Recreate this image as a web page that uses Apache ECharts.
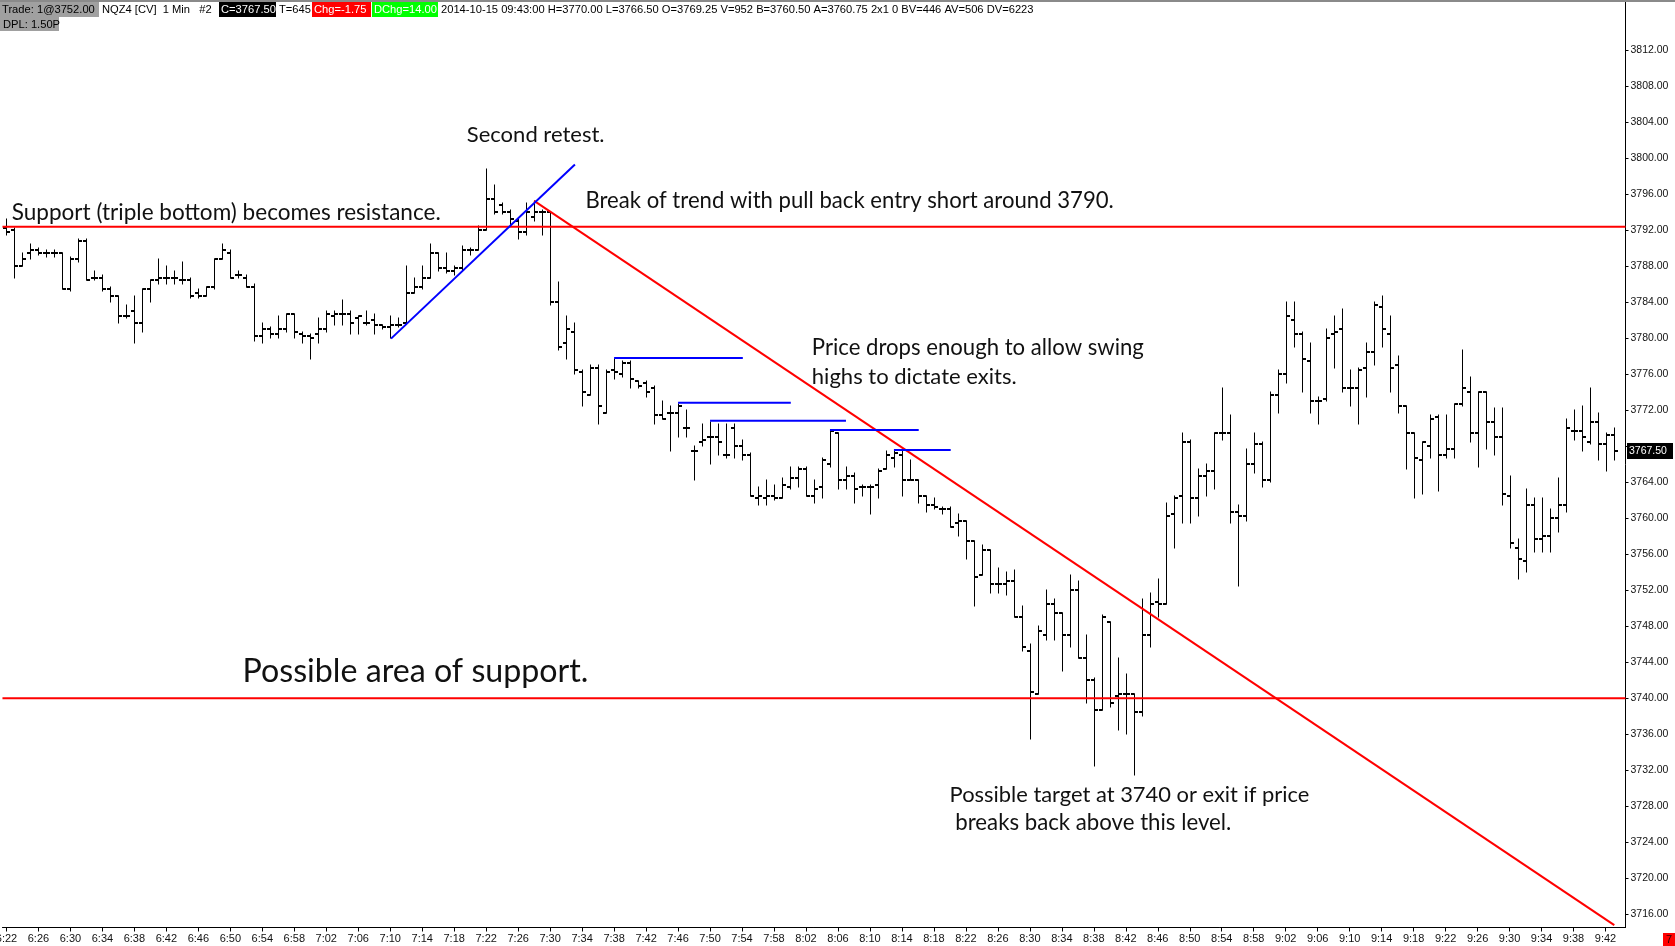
<!DOCTYPE html>
<html><head><meta charset="utf-8">
<script src="https://cdn.jsdelivr.net/npm/echarts@6/dist/echarts.min.js"></script>
<style>html,body{margin:0;padding:0;background:#fff;}#chart{width:1675px;height:946px;}</style>
</head><body><div id="chart"></div>
<script>
const times = [
'6:22','6:23','6:24','6:25','6:26','6:27','6:28','6:29','6:30','6:31','6:32','6:33','6:34','6:35','6:36','6:37','6:38','6:39','6:40','6:41',
'6:42','6:43','6:44','6:45','6:46','6:47','6:48','6:49','6:50','6:51','6:52','6:53','6:54','6:55','6:56','6:57','6:58','6:59',
'7:00','7:01','7:02','7:03','7:04','7:05','7:06','7:07','7:08','7:09','7:10','7:11','7:12','7:13','7:14','7:15','7:16','7:17','7:18','7:19',
'7:20','7:21','7:22','7:23','7:24','7:25','7:26','7:27','7:28','7:29','7:30','7:31','7:32','7:33','7:34','7:35','7:36','7:37','7:38','7:39',
'7:40','7:41','7:42','7:43','7:44','7:45','7:46','7:47','7:48','7:49','7:50','7:51','7:52','7:53','7:54','7:55','7:56','7:57','7:58','7:59',
'8:00','8:01','8:02','8:03','8:04','8:05','8:06','8:07','8:08','8:09','8:10','8:11','8:12','8:13','8:14','8:15','8:16','8:17','8:18','8:19',
'8:20','8:21','8:22','8:23','8:24','8:25','8:26','8:27','8:28','8:29','8:30','8:31','8:32','8:33','8:34','8:35','8:36','8:37','8:38','8:39',
'8:40','8:41','8:42','8:43','8:44','8:45','8:46','8:47','8:48','8:49','8:50','8:51','8:52','8:53','8:54','8:55','8:56','8:57','8:58','8:59',
'9:00','9:01','9:02','9:03','9:04','9:05','9:06','9:07','9:08','9:09','9:10','9:11','9:12','9:13','9:14','9:15','9:16','9:17','9:18','9:19',
'9:20','9:21','9:22','9:23','9:24','9:25','9:26','9:27','9:28','9:29','9:30','9:31','9:32','9:33','9:34','9:35','9:36','9:37','9:38','9:39',
'9:40','9:41','9:42','9:43'];

const opens = [
3792.25,3792.0,3788.0,3789.5,3789.75,3789.5,3789.5,3789.5,3785.5,3788.75,
3790.75,3786.75,3786.75,3785.5,3784.75,3782.5,3783.0,3781.75,3785.5,3786.5,
3786.75,3786.75,3786.5,3786.5,3785.0,3784.75,3785.75,3788.75,3789.5,3787.0,
3786.75,3785.75,3780.25,3781.0,3780.5,3781.0,3782.75,3780.5,3780.25,3780.5,
3781.0,3782.5,3782.75,3782.75,3782.25,3781.75,3782.0,3781.5,3781.25,3781.5,
3781.75,3785.0,3785.75,3786.75,3789.5,3787.75,3787.5,3787.75,3789.75,3789.75,
3792.0,3795.5,3794.75,3794.0,3793.0,3791.75,3793.5,3794.0,3794.0,3784.0,
3779.5,3780.75,3776.25,3773.75,3776.75,3771.75,3776.5,3776.0,3777.25,3775.25,
3775.0,3774.5,3771.5,3771.75,3771.75,3770.0,3767.5,3768.5,3769.0,3769.0,
3767.0,3770.0,3768.0,3767.0,3762.25,3762.25,3762.5,3762.25,3763.5,3764.5,
3765.5,3762.5,3763.5,3766.0,3769.5,3764.25,3764.75,3763.5,3763.5,3763.75,
3765.5,3766.75,3767.0,3764.25,3764.25,3762.5,3761.5,3761.0,3761.0,3759.5,
3759.75,3757.5,3753.75,3756.5,3752.75,3752.75,3753.0,3749.0,3745.25,3740.5,
3747.0,3750.5,3749.5,3747.0,3752.0,3744.5,3742.0,3738.75,3748.5,3740.25,
3740.5,3740.5,3738.5,3747.0,3750.75,3750.5,3760.5,3762.5,3768.5,3762.25,
3764.75,3765.25,3769.5,3769.5,3760.75,3760.25,3766.0,3768.25,3764.25,3773.75,
3776.0,3782.0,3780.5,3777.5,3773.0,3773.25,3780.5,3781.0,3774.5,3774.5,
3776.75,3778.5,3783.5,3780.5,3777.0,3772.5,3769.5,3766.5,3768.0,3771.25,
3767.0,3767.75,3772.75,3774.0,3769.5,3774.0,3770.75,3769.0,3762.5,3756.75,
3755.25,3761.5,3757.75,3758.0,3760.0,3761.5,3769.75,3769.75,3768.5,3770.75,
3768.25,3769.25];

const highs = [
3793.25,3792.25,3789.5,3790.5,3790.0,3789.75,3789.75,3789.5,3789.0,3791.0,
3791.0,3787.5,3787.0,3785.75,3784.75,3783.75,3784.75,3785.5,3786.5,3788.75,
3788.0,3787.5,3788.5,3786.75,3785.5,3785.75,3788.75,3790.5,3789.75,3787.5,
3787.0,3786.0,3781.75,3781.25,3782.5,3782.75,3782.75,3780.75,3780.5,3782.25,
3783.0,3783.0,3784.25,3783.0,3782.5,3783.0,3782.75,3781.5,3782.5,3782.25,
3788.0,3786.75,3788.0,3790.5,3789.5,3789.5,3788.0,3790.25,3790.0,3792.5,
3798.75,3797.0,3795.0,3794.25,3793.25,3795.0,3795.25,3794.25,3794.0,3786.25,
3782.5,3781.75,3776.5,3777.0,3777.0,3776.5,3777.75,3777.5,3777.5,3775.25,
3775.25,3774.75,3773.0,3772.5,3772.75,3772.0,3768.0,3770.5,3770.75,3770.5,
3770.5,3770.5,3768.75,3767.25,3763.5,3764.25,3763.75,3764.5,3765.75,3765.75,
3765.75,3764.25,3766.75,3769.75,3769.5,3765.75,3765.0,3763.75,3763.75,3765.5,
3767.5,3767.5,3767.5,3766.5,3764.25,3762.5,3762.25,3761.25,3761.25,3760.5,
3759.75,3757.5,3757.0,3756.5,3754.5,3754.0,3754.25,3750.25,3746.0,3748.0,
3752.0,3751.0,3749.5,3753.75,3753.0,3747.0,3742.25,3749.25,3748.5,3744.5,
3742.75,3740.5,3751.0,3751.75,3753.25,3761.75,3762.5,3769.5,3768.75,3765.5,
3766.0,3769.5,3774.5,3771.5,3761.5,3767.75,3769.5,3768.5,3774.0,3776.5,
3784.0,3784.0,3780.75,3779.5,3773.5,3781.0,3782.5,3783.25,3776.5,3776.75,
3779.5,3784.0,3784.75,3782.5,3778.0,3772.5,3769.5,3768.5,3771.5,3771.5,
3771.5,3772.75,3778.75,3775.75,3774.0,3774.0,3772.25,3772.25,3764.75,3757.75,
3763.25,3762.25,3762.25,3761.0,3764.5,3771.0,3772.0,3772.5,3774.5,3771.75,
3769.5,3770.0];

const lows = [
3791.5,3786.75,3788.0,3788.75,3789.25,3789.0,3789.0,3785.5,3785.25,3788.5,
3786.5,3786.5,3785.25,3784.0,3781.75,3782.25,3779.5,3780.75,3784.0,3786.0,
3786.0,3786.0,3786.0,3784.5,3784.5,3784.75,3785.5,3788.75,3786.75,3786.75,
3785.75,3779.75,3779.5,3780.0,3780.0,3780.75,3780.0,3779.5,3777.75,3779.5,
3780.75,3781.5,3781.5,3780.5,3780.5,3781.5,3780.5,3781.0,3780.0,3781.25,
3781.75,3785.0,3785.5,3786.75,3787.5,3787.25,3787.0,3787.5,3789.25,3789.75,
3792.0,3793.75,3793.75,3792.5,3791.0,3791.5,3793.0,3791.5,3783.75,3778.75,
3777.75,3776.0,3772.5,3773.75,3770.5,3771.75,3775.5,3775.75,3774.5,3774.5,
3773.5,3770.5,3771.0,3767.5,3769.0,3769.0,3764.25,3768.0,3766.0,3767.0,
3766.75,3766.75,3766.5,3762.5,3761.5,3761.5,3762.0,3762.25,3763.25,3763.5,
3762.5,3761.75,3762.25,3765.75,3763.25,3763.25,3761.75,3762.5,3760.5,3762.25,
3765.5,3765.75,3762.5,3764.25,3761.75,3760.75,3761.0,3760.5,3759.0,3758.0,
3755.5,3750.25,3753.75,3751.75,3751.75,3751.5,3749.0,3745.25,3735.5,3740.5,
3746.5,3746.5,3743.0,3745.75,3744.5,3739.5,3732.5,3738.75,3739.0,3736.5,
3736.0,3731.5,3738.0,3745.75,3749.0,3750.5,3756.75,3759.5,3759.5,3760.25,
3762.5,3763.25,3768.75,3759.5,3752.5,3759.75,3765.0,3763.5,3764.0,3771.75,
3775.0,3779.0,3774.0,3771.75,3770.5,3773.0,3776.75,3774.0,3772.5,3770.5,
3773.5,3777.0,3779.0,3774.0,3771.75,3765.5,3762.25,3762.75,3766.75,3763.0,
3766.75,3766.75,3772.5,3768.5,3765.75,3767.75,3767.0,3761.5,3756.75,3753.25,
3754.0,3756.25,3756.25,3756.25,3758.5,3760.75,3768.75,3767.5,3768.25,3766.5,
3765.25,3766.5];

const closes = [
3791.75,3788.0,3788.75,3789.75,3789.5,3789.5,3789.5,3785.5,3788.75,3790.75,
3786.5,3786.75,3785.5,3784.75,3782.5,3782.5,3781.75,3785.5,3786.5,3786.75,
3786.75,3786.75,3786.5,3784.75,3784.75,3785.75,3788.75,3789.75,3786.75,3787.0,
3785.75,3780.25,3781.0,3780.5,3781.0,3782.75,3780.75,3780.25,3780.0,3781.0,
3782.75,3782.75,3782.75,3781.75,3782.5,3781.75,3781.5,3781.25,3781.5,3781.5,
3785.0,3785.75,3786.75,3789.5,3787.75,3787.5,3787.75,3789.75,3789.75,3792.0,
3795.5,3794.0,3794.0,3793.25,3791.75,3794.0,3794.0,3794.0,3784.0,3779.0,
3781.0,3776.5,3774.0,3776.75,3772.5,3776.25,3776.25,3777.25,3775.5,3774.75,
3774.0,3771.5,3771.0,3771.75,3772.5,3770.0,3767.5,3768.75,3769.0,3768.5,
3767.0,3768.0,3767.0,3762.5,3762.5,3762.5,3762.25,3763.75,3764.5,3765.5,
3762.5,3763.25,3766.5,3769.75,3764.25,3764.75,3763.25,3763.5,3763.5,3765.25,
3767.0,3767.25,3764.25,3764.25,3762.5,3761.5,3761.25,3761.0,3759.0,3759.75,
3757.5,3753.5,3756.5,3752.75,3752.75,3753.0,3749.0,3745.75,3740.75,3747.5,
3750.5,3749.5,3747.0,3752.0,3744.5,3742.0,3738.75,3749.0,3739.5,3740.5,
3740.5,3738.5,3747.0,3750.5,3750.5,3760.25,3762.25,3768.5,3762.25,3764.75,
3765.25,3769.5,3769.5,3760.75,3760.25,3766.0,3768.25,3764.25,3773.75,3776.0,
3782.5,3780.5,3777.75,3773.0,3773.0,3780.0,3780.75,3774.5,3774.5,3776.5,
3778.5,3783.75,3781.0,3776.75,3772.5,3769.5,3766.75,3768.5,3771.0,3767.0,
3767.75,3772.75,3774.5,3769.5,3774.0,3770.75,3769.0,3762.75,3757.25,3755.5,
3761.5,3757.75,3758.0,3760.0,3761.5,3770.0,3769.75,3769.0,3770.75,3768.25,
3769.25,3767.5];

const xTickLabels = ['6:22','6:26','6:30','6:34','6:38','6:42','6:46','6:50','6:54','6:58','7:02','7:06','7:10','7:14','7:18','7:22','7:26','7:30','7:34','7:38','7:42','7:46','7:50','7:54','7:58','8:02','8:06','8:10','8:14','8:18','8:22','8:26','8:30','8:34','8:38','8:42','8:46','8:50','8:54','8:58','9:02','9:06','9:10','9:14','9:18','9:22','9:26','9:30','9:34','9:38','9:42'];
const yTickValues = [3716,3720,3724,3728,3732,3736,3740,3744,3748,3752,3756,3760,3764,3768,3772,3776,3780,3784,3788,3792,3796,3800,3804,3808,3812];
// 3768.00 is hidden behind the last-price marker in the reference
const yLabelValues = [3716,3720,3724,3728,3732,3736,3740,3744,3748,3752,3756,3760,3764,3772,3776,3780,3784,3788,3792,3796,3800,3804,3808,3812];

// drawing objects, in (bar index, price) units
const resistanceLevel = 3792.4;
const supportLevel = 3740;
const redTrend = [[66.0, 3795.27], [201.1, 3714.81]];
const blueTrend = [[48.1, 3779.96], [71.1, 3799.3]];
const swingStart = [76, 84, 88, 103, 111];
const swingEnd = [92.1, 98.1, 105.0, 114.1, 118.1];
const swingLevel = [3777.8, 3772.85, 3770.85, 3769.8, 3767.6];

const annotations = [
  {text: 'Second retest.', x: 466.8, y: 134.6, w: 137.8},
  {text: 'Break of trend with pull back entry short around 3790.', x: 585.4, y: 200.8, w: 528.8},
  {text: 'Support (triple bottom) becomes resistance.', x: 11.7, y: 212.6, w: 429.4},
  {text: 'Price drops enough to allow swing', x: 811.8, y: 348.2, w: 332.2},
  {text: 'highs to dictate exits.', x: 811.8, y: 377.1, w: 205},
  {text: 'Possible area of support.', x: 242.5, y: 671.9, w: 346.1},
  {text: 'Possible target at 3740 or exit if price', x: 949.6, y: 794.7, w: 360},
  {text: ' breaks back above this level.', x: 949.6, y: 822.5, w: 281.9}
];

const headerRow1 = [
  {text: 'Trade: 1@3752.00', x: 0, w: 99, bg: '#a0a0a0', color: '#000'},
  {text: 'NQZ4 [CV]  1 Min   #2', x: 102, w: 0, bg: null, color: '#000'},
  {text: 'C=3767.50', x: 219, w: 57, bg: '#000000', color: '#fff'},
  {text: 'T=645', x: 279, w: 0, bg: null, color: '#000'},
  {text: 'Chg=-1.75', x: 312, w: 59, bg: '#ff0000', color: '#fff'},
  {text: 'DChg=14.00', x: 372, w: 66, bg: '#00ff00', color: '#fff'},
  {text: '2014-10-15 09:43:00 H=3770.00 L=3766.50 O=3769.25 V=952 B=3760.50 A=3760.75 2x1 0 BV=446 AV=506 DV=6223', x: 441, w: 0, bg: null, color: '#000'}
];

const measureCtx = document.createElement('canvas').getContext('2d');
function fitSize(text, family, base, target) {
  measureCtx.font = base + 'px ' + family;
  const w = measureCtx.measureText(text).width;
  return base * target / w;
}

const ohlc = opens.map((o, i) => [i, o, highs[i], lows[i], closes[i]]);
const xTickIdx = xTickLabels.map(l => times.indexOf(l));

function segSeries(pts, color) {
  return {type: 'line', data: pts, symbol: 'none', silent: true, animation: false,
    lineStyle: {color: color, width: 2}, z: 5, clip: true};
}

const series = [{
  type: 'custom',
  data: ohlc,
  encode: {x: 0, y: [1, 2, 3, 4]},
  z: 3,
  animation: false,
  renderItem: function (params, api) {
    const x = api.value(0);
    const pO = api.coord([x, api.value(1)]);
    const pH = api.coord([x, api.value(2)]);
    const pL = api.coord([x, api.value(3)]);
    const pC = api.coord([x, api.value(4)]);
    const cx = Math.round(pO[0]) + 0.5;
    const yO = Math.round(pO[1]);
    const yC = Math.round(pC[1]);
    return {type: 'group', children: [
      {type: 'line', shape: {x1: cx, y1: Math.round(pH[1]) - 0.5, x2: cx, y2: Math.round(pL[1]) + 0.5}, style: {stroke: '#000', lineWidth: 1}},
      {type: 'line', shape: {x1: cx - 3.5, y1: yO, x2: cx, y2: yO}, style: {stroke: '#000', lineWidth: 2}},
      {type: 'line', shape: {x1: cx, y1: yC, x2: cx + 3.5, y2: yC}, style: {stroke: '#000', lineWidth: 2}}
    ]};
  }
},
  segSeries([[-0.5, resistanceLevel], [202.5, resistanceLevel]], '#ff0000'),
  segSeries([[-0.5, supportLevel], [202.5, supportLevel]], '#ff0000'),
  segSeries(redTrend, '#ff0000'),
  segSeries(blueTrend, '#0000ff')
];
swingStart.forEach((s, i) => {
  series.push(segSeries([[s, swingLevel[i]], [swingEnd[i], swingLevel[i]]], '#0000ff'));
});

const chart = echarts.init(document.getElementById('chart'), null, {renderer: 'canvas'});
chart.setOption({
  animation: false,
  backgroundColor: '#ffffff',
  grid: {left: 2.47, right: 49.5, top: 2, bottom: 18.5, containLabel: false, outerBoundsMode: 'none'},
  xAxis: {
    type: 'value', min: -0.5, max: 202.5,
    splitLine: {show: false},
    axisLine: {show: true, onZero: false, lineStyle: {color: '#000', width: 1}},
    axisTick: {show: true, length: 4, customValues: xTickIdx, lineStyle: {color: '#000'}},
    axisLabel: {customValues: xTickIdx, formatter: v => times[Math.round(v)], color: '#111',
      fontFamily: 'Liberation Sans', fontSize: 11, margin: 6}
  },
  yAxis: {
    type: 'value', position: 'right', min: 3714.545, max: 3817.354, scale: true,
    splitLine: {show: false},
    axisLine: {show: true, onZero: false, lineStyle: {color: '#000', width: 1}},
    axisTick: {show: true, length: 3, customValues: yTickValues, lineStyle: {color: '#000'}},
    axisLabel: {customValues: yLabelValues, formatter: v => v.toFixed(2), color: '#111',
      fontFamily: 'Liberation Sans', fontSize: 10.5, margin: 5}
  },
  series: series
});

const graphics = [];
graphics.push({type: 'rect', shape: {x: 0, y: 0, width: 1675, height: 2}, style: {fill: '#8a8a8a'}, z: 20});
const headFont = 'Liberation Sans';
const headSize = fitSize(headerRow1[6].text, headFont, 11, 593);
headerRow1.forEach(h => {
  if (h.bg) graphics.push({type: 'rect', shape: {x: h.x, y: 2, width: h.w, height: 15}, style: {fill: h.bg}, z: 20});
  graphics.push({type: 'text', style: {text: h.text, x: h.x + (h.bg ? 2 : 0), y: 10, fontFamily: headFont, fontSize: headSize,
    fill: h.color, align: 'left', verticalAlign: 'middle'}, z: 21});
});
graphics.push({type: 'rect', shape: {x: 0, y: 17, width: 59, height: 14}, style: {fill: '#a0a0a0'}, z: 20});
graphics.push({type: 'text', style: {text: 'DPL: 1.50P', x: 3, y: 24.5, fontFamily: headFont, fontSize: headSize,
  fill: '#000', align: 'left', verticalAlign: 'middle'}, z: 21});

const annFont = 'Lato';
annotations.forEach(a => {
  const fs = fitSize(a.text, annFont, 22, a.w);
  graphics.push({type: 'text', style: {text: a.text, x: a.x, y: a.y, fontFamily: annFont, fontSize: fs,
    fill: '#111', align: 'left', verticalAlign: 'middle'}, z: 10});
});

const lastClose = closes[closes.length - 1];
const py = chart.convertToPixel({yAxisIndex: 0}, lastClose);
graphics.push({type: 'rect', shape: {x: 1627, y: Math.round(py) - 8, width: 46, height: 16}, style: {fill: '#000'}, z: 20});
graphics.push({type: 'text', style: {text: lastClose.toFixed(2), x: 1629, y: Math.round(py), fontFamily: 'Liberation Sans',
  fontSize: 10.5, fill: '#fff', align: 'left', verticalAlign: 'middle'}, z: 21});

graphics.push({type: 'rect', shape: {x: 1663, y: 933, width: 12, height: 13}, style: {fill: '#ff0000'}, z: 20});
graphics.push({type: 'text', style: {text: '7', x: 1669, y: 940, fontFamily: 'Liberation Sans', fontSize: 11,
  fill: '#300', align: 'center', verticalAlign: 'middle'}, z: 21});

chart.setOption({graphic: graphics});
</script>
</body></html>
